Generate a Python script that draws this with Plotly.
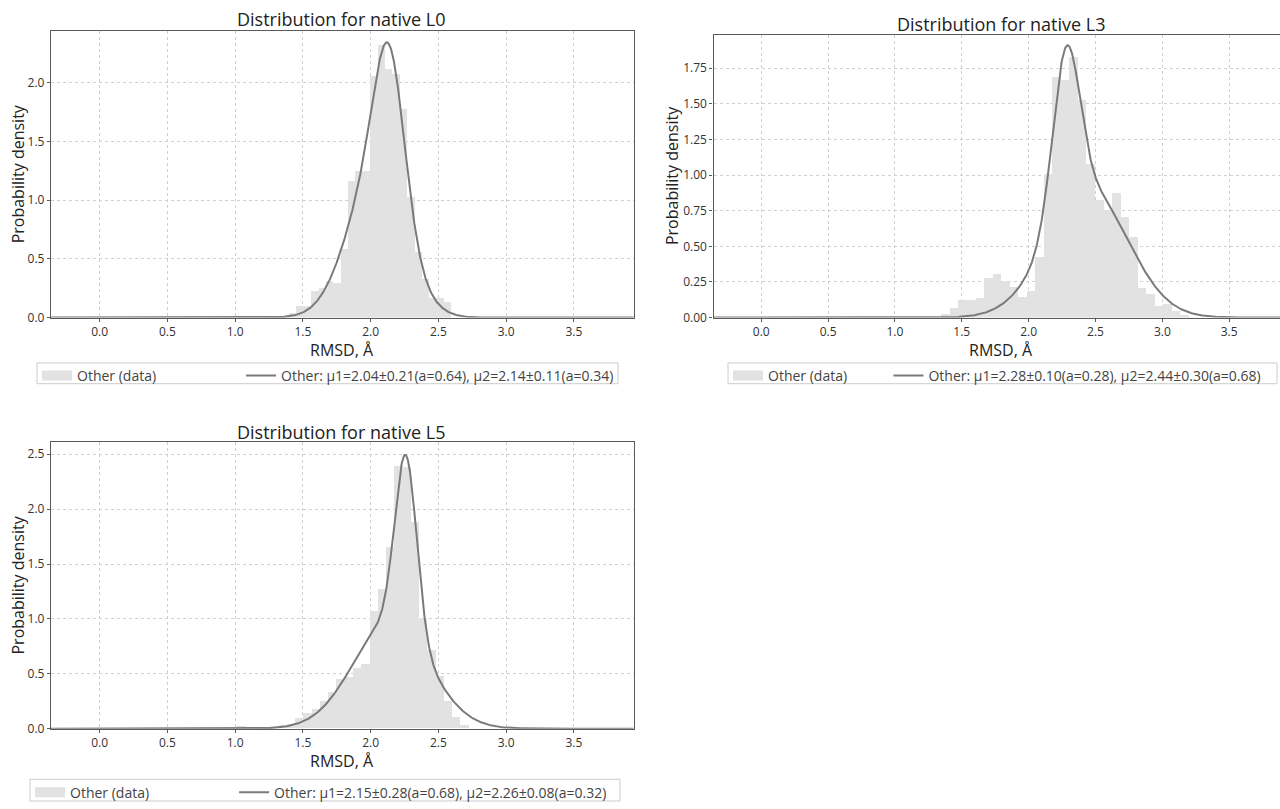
import numpy as np
import plotly.graph_objects as go

# ---------------- data ----------------
titles = ["Distribution for native L0", "Distribution for native L3", "Distribution for native L5"]

# L0: density histogram (equal-width bins) and two-component Gaussian fit
l0_bin_start = 1.234
l0_bin_width = 0.0545
l0_heights = [0.005, 0.005, 0.01, 0.04, 0.10, 0.10, 0.23, 0.25, 0.31, 0.29,
              0.58, 1.16, 1.25, 1.25, 2.06, 2.32, 2.12, 2.07, 1.78, 1.03,
              0.56, 0.33, 0.17, 0.17, 0.13]
l0_mu = [2.04, 2.14]
l0_sigma = [0.21, 0.11]
l0_weight = [0.64, 0.34]

# L3
l3_bin_start = 1.344
l3_bin_width = 0.0638
l3_heights = [0.03, 0.07, 0.13, 0.125, 0.14, 0.28, 0.31, 0.26, 0.22, 0.15,
              0.19, 0.43, 1.01, 1.69, 1.67, 1.83, 1.53, 1.08, 0.83, 0.76,
              0.88, 0.71, 0.57, 0.21, 0.17, 0.085, 0.10, 0.05, 0.02]
l3_mu = [2.28, 2.44]
l3_sigma = [0.10, 0.30]
l3_weight = [0.28, 0.68]

# L5
l5_bin_start = 1.016
l5_bin_width = 0.061
l5_heights = [0.02, 0.0, 0.0, 0.005, 0.02, 0.03, 0.04, 0.095, 0.14, 0.18,
              0.25, 0.33, 0.45, 0.47, 0.55, 0.59, 1.07, 1.27, 1.65, 2.39,
              2.38, 1.88, 1.00, 0.71, 0.48, 0.245, 0.10, 0.03]
l5_mu = [2.15, 2.26]
l5_sigma = [0.28, 0.08]
l5_weight = [0.68, 0.32]

x_ticks = [0.0, 0.5, 1.0, 1.5, 2.0, 2.5, 3.0, 3.5]
l0_y_ticks = [0.0, 0.5, 1.0, 1.5, 2.0]
l3_y_ticks = [0.0, 0.25, 0.5, 0.75, 1.0, 1.25, 1.5, 1.75]
l5_y_ticks = [0.0, 0.5, 1.0, 1.5, 2.0, 2.5]

# ---------------- styling ----------------
W, H = 1280, 809
FONT = "Open Sans"
BAR_COLOR = "#e2e2e2"
CURVE_COLOR = "#7a7a7a"
SPINE = "#5a5a5a"
GRID = "#d0d0d0"


def px_x(p):
    return p / W


def px_y(p):
    return 1 - p / H


def mixture(x, mu, sigma, weight):
    y = np.zeros_like(x)
    for m, s, a in zip(mu, sigma, weight):
        y += a * np.exp(-0.5 * ((x - m) / s) ** 2) / (s * np.sqrt(2 * np.pi))
    return y


def fit_label(mu, sigma, weight):
    return (f"Other: \u03bc1={mu[0]:.2f}\u00b1{sigma[0]:.2f}(a={weight[0]:.2f}), "
            f"\u03bc2={mu[1]:.2f}\u00b1{sigma[1]:.2f}(a={weight[1]:.2f})")


panels = [
    dict(start=l0_bin_start, width=l0_bin_width, heights=l0_heights,
         mu=l0_mu, sigma=l0_sigma, weight=l0_weight, yticks=l0_y_ticks, yfmt=".1f",
         dom_x=(51, 633.5), dom_y=(31.5, 322), xr=(-0.359, 3.94), yr=(0, 2.44),
         mirror_y=True, title_xy=(341, 19), xt_y=355, yt_x=18,
         leg_box=(37, 368, 618, 389), pad=22),
    dict(start=l3_bin_start, width=l3_bin_width, heights=l3_heights,
         mu=l3_mu, sigma=l3_sigma, weight=l3_weight, yticks=l3_y_ticks, yfmt=".2f",
         dom_x=(713.5, 1280), dom_y=(35, 322), xr=(-0.357, 3.88), yr=(0, 1.985),
         mirror_y=False, title_xy=(1001, 24), xt_y=355, yt_x=672,
         leg_box=(728, 368, 1277, 389), pad=10),
    dict(start=l5_bin_start, width=l5_bin_width, heights=l5_heights,
         mu=l5_mu, sigma=l5_sigma, weight=l5_weight, yticks=l5_y_ticks, yfmt=".1f",
         dom_x=(51, 633.5), dom_y=(448.5, 738.7), xr=(-0.359, 3.94), yr=(0, 2.608),
         mirror_y=True, title_xy=(341, 438), xt_y=771, yt_x=18,
         leg_box=(30, 790, 620, 812), pad=22),
]

fig = go.Figure()
annotations = []
shapes = []
x_curve = np.linspace(-0.4, 4.0, 1200)

for i, p in enumerate(panels, start=1):
    xa = "x" if i == 1 else f"x{i}"
    ya = "y" if i == 1 else f"y{i}"
    leg = "legend" if i == 1 else f"legend{i}"

    heights = np.array(p["heights"])
    centers = p["start"] + p["width"] * (np.arange(len(heights)) + 0.5)
    fig.add_trace(go.Bar(x=centers, y=heights, width=p["width"],
                         marker=dict(color=BAR_COLOR, line=dict(width=0)),
                         xaxis=xa, yaxis=ya, showlegend=False, name="Other (data)"))
    # legend swatch for the histogram
    fig.add_trace(go.Scatter(x=[None], y=[None], mode="lines",
                             line=dict(color=BAR_COLOR, width=10),
                             name="Other (data)" + "\u00a0" * p["pad"],
                             xaxis=xa, yaxis=ya, legend=leg))
    fig.add_trace(go.Scatter(x=x_curve, y=mixture(x_curve, p["mu"], p["sigma"], p["weight"]),
                             mode="lines", line=dict(color=CURVE_COLOR, width=2),
                             name=fit_label(p["mu"], p["sigma"], p["weight"]),
                             xaxis=xa, yaxis=ya, legend=leg))

    axis_common = dict(showline=True, linecolor=SPINE, linewidth=1.3,
                       showgrid=True, gridcolor=GRID, griddash="dot", gridwidth=1,
                       zeroline=False, ticks="outside", ticklen=3, tickcolor=SPINE,
                       tickfont=dict(family=FONT, size=12, color="#333"))
    bx0, by0, bx1, by1 = p["leg_box"]
    fig.update_layout({
        ("xaxis" if i == 1 else f"xaxis{i}"): dict(
            axis_common, domain=[px_x(p["dom_x"][0]), px_x(p["dom_x"][1])],
            range=list(p["xr"]), tickvals=x_ticks, tickformat=".1f",
            mirror=True, anchor=ya),
        ("yaxis" if i == 1 else f"yaxis{i}"): dict(
            axis_common, domain=[px_y(p["dom_y"][1]), px_y(p["dom_y"][0])],
            range=list(p["yr"]), tickvals=p["yticks"], tickformat=p["yfmt"],
            mirror=p["mirror_y"], anchor=xa),
        leg: dict(orientation="h", x=px_x(bx0), y=px_y((by0 + by1) / 2 + 2.5),
                  xanchor="left", yanchor="middle", bgcolor="rgba(0,0,0,0)",
                  borderwidth=0, traceorder="normal",
                  font=dict(family=FONT, size=14, color="#444"),
                  itemwidth=30, tracegroupgap=0),
    })
    # legend frame
    shapes.append(dict(type="rect", xref="paper", yref="paper",
                       x0=px_x(bx0), x1=px_x(bx1), y0=px_y(by1), y1=px_y(by0),
                       line=dict(color="#cccccc", width=1), fillcolor="white",
                       layer="below"))

    annotations.append(dict(text=titles[i - 1], x=px_x(p["title_xy"][0]), y=px_y(p["title_xy"][1]),
                            xref="paper", yref="paper", showarrow=False,
                            xanchor="center", yanchor="middle",
                            font=dict(family=FONT, size=18, color="#222")))
    x_mid = (p["dom_x"][0] + p["dom_x"][1]) / 2 if i != 2 else 1001
    annotations.append(dict(text="RMSD, \u00c5", x=px_x(x_mid), y=px_y(p["xt_y"]),
                            xref="paper", yref="paper", showarrow=False,
                            xanchor="center", yanchor="middle",
                            font=dict(family=FONT, size=16, color="#222")))
    annotations.append(dict(text="Probability density", x=px_x(p["yt_x"]),
                            y=px_y((p["dom_y"][0] + p["dom_y"][1]) / 2),
                            xref="paper", yref="paper", showarrow=False, textangle=-90,
                            xanchor="center", yanchor="middle",
                            font=dict(family=FONT, size=16, color="#222")))

fig.update_layout(width=W, height=H, margin=dict(l=0, r=0, t=0, b=0),
                  paper_bgcolor="white", plot_bgcolor="white",
                  bargap=0, annotations=annotations, shapes=shapes)

fig.write_html("out.html")
